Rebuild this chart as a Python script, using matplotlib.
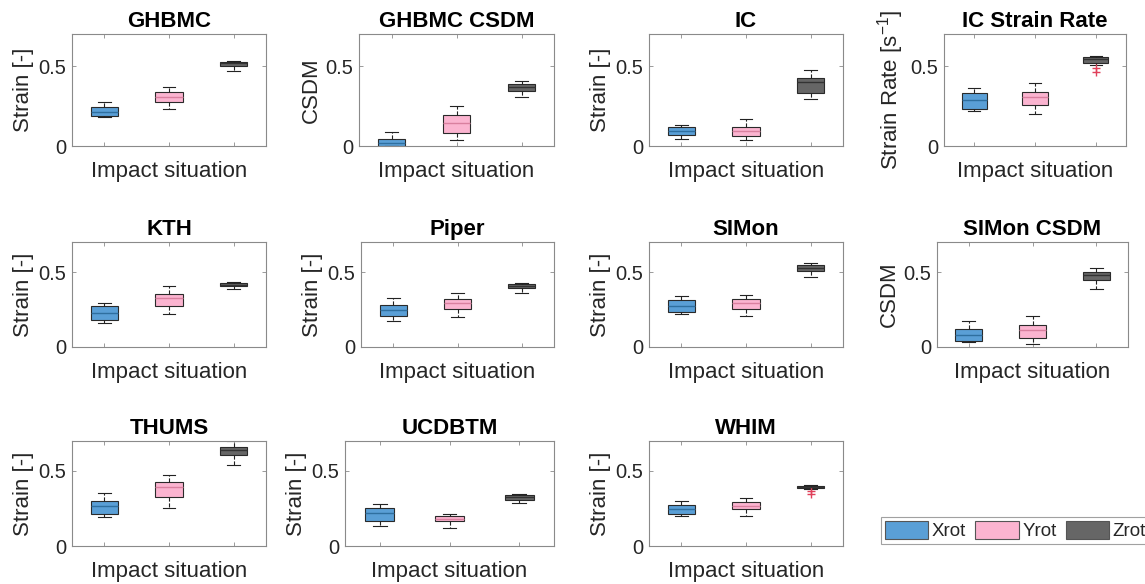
import matplotlib
matplotlib.use('Agg')
import matplotlib.pyplot as plt
from matplotlib.patches import Patch

plt.rcParams['font.family'] = ['Liberation Sans', 'DejaVu Sans']
plt.rcParams['mathtext.default'] = 'regular'

# ---------------- data ----------------
models = ['GHBMC', 'GHBMC CSDM', 'IC', 'IC Strain Rate', 'KTH', 'Piper',
          'SIMon', 'SIMon CSDM', 'THUMS', 'UCDBTM', 'WHIM']
ylabels = ['Strain [-]', 'CSDM', 'Strain [-]', 'Strain Rate [s$^{-1}$]',
           'Strain [-]', 'Strain [-]', 'Strain [-]', 'CSDM',
           'Strain [-]', 'Strain [-]', 'Strain [-]']
rotations = ['Xrot', 'Yrot', 'Zrot']
xlabel = 'Impact situation'
yticks = [0, 0.5]

# [whisker low, q1, median, q3, whisker high] per model
xrot = [[0.182, 0.186, 0.213, 0.244, 0.277],
        [0.000, 0.000, 0.021, 0.046, 0.087],
        [0.045, 0.066, 0.095, 0.120, 0.134],
        [0.219, 0.231, 0.290, 0.333, 0.360],
        [0.161, 0.181, 0.227, 0.271, 0.293],
        [0.173, 0.207, 0.244, 0.282, 0.327],
        [0.220, 0.231, 0.275, 0.315, 0.341],
        [0.031, 0.037, 0.077, 0.121, 0.172],
        [0.195, 0.213, 0.265, 0.303, 0.351],
        [0.132, 0.165, 0.223, 0.254, 0.277],
        [0.203, 0.216, 0.248, 0.275, 0.297]]
yrot = [[0.229, 0.275, 0.308, 0.335, 0.370],
        [0.035, 0.083, 0.145, 0.191, 0.249],
        [0.039, 0.064, 0.093, 0.118, 0.171],
        [0.202, 0.254, 0.306, 0.335, 0.392],
        [0.222, 0.273, 0.324, 0.352, 0.410],
        [0.200, 0.256, 0.296, 0.322, 0.360],
        [0.207, 0.253, 0.293, 0.319, 0.350],
        [0.020, 0.059, 0.115, 0.148, 0.205],
        [0.253, 0.328, 0.391, 0.428, 0.475],
        [0.121, 0.165, 0.183, 0.201, 0.214],
        [0.203, 0.245, 0.264, 0.291, 0.318]]
zrot = [[0.467, 0.500, 0.517, 0.527, 0.533],
        [0.305, 0.346, 0.369, 0.388, 0.405],
        [0.293, 0.330, 0.403, 0.426, 0.473],
        [0.506, 0.521, 0.542, 0.554, 0.560],
        [0.390, 0.405, 0.416, 0.427, 0.436],
        [0.362, 0.391, 0.407, 0.420, 0.424],
        [0.469, 0.509, 0.529, 0.544, 0.560],
        [0.385, 0.447, 0.478, 0.502, 0.526],
        [0.543, 0.606, 0.638, 0.663, 0.699],
        [0.286, 0.304, 0.326, 0.339, 0.350],
        [0.381, 0.390, 0.396, 0.403, 0.408]]
# outliers: model index -> values
xrot_out = {}
yrot_out = {}
zrot_out = {3: [0.487, 0.465], 10: [0.365, 0.349]}

# ---------------- style / layout ----------------
fill_colors = ['#5a9fd6', '#fbb4d0', '#666666']
median_colors = ['#2f6f9f', '#d9809f', '#333333']
# axes boxes in pixels: left, right, top, bottom
axes_px = [(72, 266, 34, 146), (359, 554, 34, 146), (649, 843, 34, 146), (944, 1126, 34, 146),
           (72, 266, 242, 347), (361, 554, 242, 347), (649, 843, 242, 347), (937, 1128, 242, 347),
           (72, 266, 441, 546), (345, 554, 441, 546), (649, 843, 441, 546)]
W, H = 1145, 584
spine_c = '#8a8a8a'
text_c = '#262626'

fig = plt.figure(figsize=(W / 100, H / 100), dpi=100)
series = [xrot, yrot, zrot]
outs = [xrot_out, yrot_out, zrot_out]

for i, name in enumerate(models):
    l, r, t, b = axes_px[i]
    ax = fig.add_axes([l / W, 1 - b / H, (r - l) / W, (b - t) / H])
    stats = []
    for j in range(3):
        lo, q1, med, q3, hi = series[j][i]
        stats.append(dict(whislo=lo, q1=q1, med=med, q3=q3, whishi=hi,
                          fliers=outs[j].get(i, [])))
    bp = ax.bxp(stats, positions=[1, 2, 3], widths=0.42, patch_artist=True,
                capwidths=0.2, showfliers=True,
                whiskerprops=dict(color='#222222', linestyle='--', linewidth=0.8),
                capprops=dict(color='#222222', linewidth=0.8),
                flierprops=dict(marker='+', markeredgecolor='#e0405a',
                                markersize=6, linestyle='none'))
    for j, box in enumerate(bp['boxes']):
        box.set_facecolor(fill_colors[j])
        box.set_edgecolor('#2a2a2a')
        box.set_linewidth(0.8)
    for j, m in enumerate(bp['medians']):
        m.set_color(median_colors[j])
        m.set_linewidth(1.0)
    ax.set_xlim(0.5, 3.5)
    ax.set_ylim(0, 0.7)
    ax.set_yticks(yticks)
    ax.set_yticklabels(['0', '0.5'])
    ax.set_xticks([1, 2, 3])
    ax.set_xticklabels([])
    ax.tick_params(direction='in', length=3, width=0.6, top=True, right=True,
                   colors=spine_c, labelcolor=text_c, labelsize=14.5, pad=4)
    for s in ax.spines.values():
        s.set_color(spine_c)
        s.set_linewidth(0.8)
    ax.set_title(name, fontsize=16, fontweight='bold', pad=5, color='black')
    ax.set_xlabel(xlabel, fontsize=16, color=text_c, labelpad=7)
    ax.set_ylabel(ylabels[i], fontsize=16, color=text_c, labelpad=3)

handles = [Patch(facecolor=fill_colors[j], edgecolor='#555555', linewidth=0.8)
           for j in range(3)]
leg = fig.legend(handles, rotations, ncol=3, loc='center',
                 bbox_to_anchor=((887 + 1144) / 2 / W, 1 - (517 + 544) / 2 / H),
                 fontsize=13.5, frameon=True, fancybox=False, edgecolor='#8a8a8a',
                 handlelength=2.3, handleheight=1.1, handletextpad=0.2,
                 columnspacing=0.5, borderpad=0.2, borderaxespad=0)
leg.get_frame().set_linewidth(0.8)
for txt in leg.get_texts():
    txt.set_color(text_c)

fig.savefig('out.png', dpi=100)
